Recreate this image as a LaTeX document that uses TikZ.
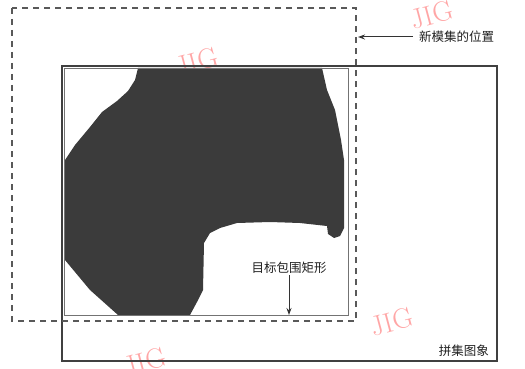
\documentclass[tikz,border=0pt]{standalone}
\usepackage{fontspec}
\newfontfamily\cjk{Noto Sans CJK SC}
\usetikzlibrary{arrows.meta}
\begin{document}
\begin{tikzpicture}[x=1pt,y=-1pt,
  lbl/.style={font=\cjk\fontsize{12.5}{13}\selectfont, text=black!88, inner sep=0pt},
  wm/.style={font=\fontsize{28}{28}\selectfont, text=red!35, rotate=15, inner sep=0pt},
  ptr/.style={-{Stealth[length=7pt,width=5pt]}, line width=1pt, draw=black!80},
  dashbox/.style={draw=black!65, line width=1.3pt, dash pattern=on 6pt off 5pt},
  outerbox/.style={draw=black!75, line width=1.8pt},
  innerbox/.style={draw=black!55, line width=0.9pt},
  blob/.style={fill=black!77, draw=none}]
\useasboundingbox (0,0) rectangle (525,369);
% watermarks
\node[wm] (w1) at (432,15) {JIG};
\node[wm] (w2) at (197,62) {JIG};
\node[wm] (w3) at (392,322) {JIG};
\node[wm] (w4) at (145,362) {JIG};
% blob
\fill[blob] (138,68) -- (322,68) -- (327,90) -- (335,110) -- (341,140) -- (344,160)
  -- (344,228) -- (340,236) -- (334,238) -- (328,234) -- (327,226) -- (300,223)
  -- (270,222) -- (237,223) -- (220,228) -- (210,233) -- (204,243) -- (203,290)
  -- (197,302) -- (190,315) -- (118,315) -- (90,290) -- (65,260) -- (65,160)
  -- (75,145) -- (90,127) -- (102,112) -- (117,101) -- (128,91) -- (135,80) -- cycle;
% rectangles
\coordinate (dA) at (12,8);
\coordinate (dB) at (356,321);
\coordinate (oA) at (62,66);
\coordinate (oB) at (497,361);
\coordinate (iA) at (64,68);
\coordinate (iB) at (348,315);
\draw[innerbox] (iA) rectangle (iB);
\draw[outerbox] (oA) rectangle (oB);
\draw[dashbox] (dA) rectangle (dB);
% labels
\node[lbl, anchor=west] (newpos) at (419,37) {新模集的位置};
\node[lbl] (target) at (289,268) {目标包围矩形};
\node[lbl, anchor=east] (mosaic) at (489,351) {拼集图象};
\coordinate (dR) at (358,37);
\coordinate (iBot) at (289,315);
\draw[ptr] (newpos.west) ++(-6,0) -- (dR);
\draw[ptr] (target.south) ++(0,1) -- (iBot);
\end{tikzpicture}
\end{document}
